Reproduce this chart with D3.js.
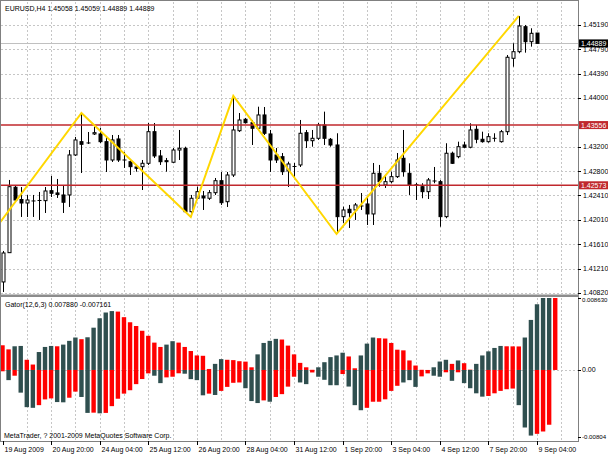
<!DOCTYPE html>
<html><head><meta charset="utf-8">
<script src="https://cdn.jsdelivr.net/npm/d3@7"></script>
<style>body{margin:0;background:#fff}svg{display:block}text{font-family:"Liberation Sans",Arial,sans-serif;}</style>
</head><body><svg id="c" width="608" height="456"></svg>
<script>
// ---- data ----
const symbolTitle = "EURUSD,H4  1.45058 1.45059 1.44889 1.44889";
const gatorTitle = "Gator(12,6,3) 0.007880 -0.007161";
const copyright = "MetaTrader, ? 2001-2009 MetaQuotes Software Corp.";
const open = [
 1.40995,1.41473,1.42541,1.42341,1.42284,1.42317,1.42325,1.42322,1.42485,1.42448,
 1.42415,1.42415,1.43068,1.43285,1.43264,1.43411,1.43411,1.43285,1.42986,1.43329,
 1.42986,1.42958,1.42872,1.42877,1.42932,1.43448,1.43052,1.42975,1.42949,1.43149,
 1.43177,1.42142,1.42361,1.42398,1.42361,1.42452,1.42648,1.42305,1.42741,1.43464,
 1.43651,1.43595,1.43504,1.43721,1.43411,1.43068,1.43040,1.42807,1.42880,1.42905,
 1.43432,1.43301,1.43340,1.43557,1.43324,1.43231,1.42061,1.42181,1.42170,1.42235,
 1.42268,1.42105,1.42769,1.42578,1.42632,1.42714,1.43014,1.42769,1.42583,1.42550,
 1.42469,1.42643,1.42632,1.42061,1.43096,1.43040,1.43231,1.43194,1.43487,1.43324,
 1.43285,1.43340,1.43285,1.43448,1.44646,1.44754,1.45162,1.44917,1.45058];
const high = [
 1.41501,1.42660,1.42562,1.42545,1.42415,1.42415,1.42464,1.42545,1.42725,1.42676,
 1.42578,1.43149,1.43362,1.43753,1.43443,1.43530,1.43509,1.43362,1.43394,1.43394,
 1.43117,1.42986,1.42905,1.42986,1.43590,1.43590,1.43149,1.43019,1.43182,1.43476,
 1.43203,1.42415,1.42550,1.42480,1.42496,1.42692,1.42790,1.42790,1.44031,1.43753,
 1.43672,1.43639,1.43856,1.43851,1.43476,1.43182,1.43100,1.42958,1.42937,1.43639,
 1.43476,1.43476,1.43590,1.43775,1.43345,1.43422,1.42224,1.42252,1.42284,1.42447,
 1.42382,1.42937,1.42905,1.42741,1.42795,1.43100,1.43476,1.42932,1.42611,1.42606,
 1.42692,1.42872,1.42660,1.43259,1.43122,1.43285,1.43285,1.43585,1.43557,1.43448,
 1.43422,1.43422,1.43476,1.44700,1.44891,1.45337,1.45190,1.45136,1.45059];
const low = [
 1.40831,1.41468,1.42301,1.42056,1.42056,1.42056,1.42007,1.42121,1.42382,1.42366,
 1.42121,1.42219,1.43052,1.42774,1.43247,1.43394,1.43264,1.42790,1.42954,1.42954,
 1.42856,1.42741,1.42795,1.42496,1.42905,1.43019,1.42905,1.42795,1.42937,1.42986,
 1.42121,1.42056,1.42333,1.42170,1.42333,1.42415,1.42252,1.42219,1.42709,1.43443,
 1.43582,1.43231,1.43476,1.43394,1.42790,1.42937,1.42741,1.42545,1.42709,1.42872,
 1.43182,1.43203,1.43313,1.43231,1.43203,1.41778,1.41958,1.41876,1.42007,1.42170,
 1.41925,1.41925,1.42550,1.42529,1.42606,1.42692,1.42714,1.42415,1.42333,1.42361,
 1.42349,1.42606,1.41897,1.42035,1.42921,1.43014,1.43177,1.43177,1.43259,1.43269,
 1.43269,1.43285,1.43269,1.43394,1.44509,1.44728,1.44738,1.44836,1.44889];
const close = [
 1.41468,1.42550,1.42333,1.42284,1.42333,1.42309,1.42317,1.42480,1.42443,1.42423,
 1.42296,1.43068,1.43313,1.43242,1.43256,1.43432,1.43285,1.42986,1.43313,1.42986,
 1.42970,1.42877,1.42851,1.42932,1.43448,1.43052,1.42958,1.42958,1.43149,1.43177,
 1.42142,1.42361,1.42469,1.42366,1.42452,1.42648,1.42289,1.42741,1.43476,1.43639,
 1.43595,1.43504,1.43721,1.43422,1.42986,1.42986,1.42795,1.42921,1.42872,1.43422,
 1.43301,1.43340,1.43557,1.43340,1.43231,1.42061,1.42170,1.42126,1.42252,1.42224,
 1.42105,1.42769,1.42632,1.42632,1.42714,1.42986,1.42795,1.42578,1.42573,1.42469,
 1.42660,1.42627,1.42061,1.43096,1.42932,1.43203,1.43194,1.43476,1.43324,1.43285,
 1.43367,1.43324,1.43448,1.44663,1.44754,1.45174,1.44917,1.45054,1.44889];

const zigzagBars = [-3, 13, 31, 38, 55, 85];
const zigzagPrices = [1.41620, 1.43753, 1.42056, 1.44031, 1.41778, 1.45337];

const levelPrices = [1.43556, 1.42573];
const lastPrice = 1.44889;
const priceTicks = [1.45190, 1.44790, 1.44390, 1.44000, 1.43200, 1.42800, 1.42410, 1.42010, 1.41610, 1.41210, 1.40820];

const timeLabelBars = [0, 8, 16, 24, 32, 40, 48, 56, 64, 72, 80, 88];
const timeLabels = ["19 Aug 2009","20 Aug 20:00","24 Aug 04:00","25 Aug 12:00","26 Aug 20:00","28 Aug 04:00",
 "31 Aug 12:00","1 Sep 20:00","3 Sep 04:00","4 Sep 12:00","7 Sep 20:00","9 Sep 04:00"];

const gatorUpper = [
 0.00296,0.00247,0.00284,0.00288,0.00122,0.00065,0.00215,0.00276,0.00288,0.00284,
 0.00304,0.00349,0.00389,0.00369,0.00392,0.00507,0.00620,0.00689,0.00706,0.00700,
 0.00633,0.00572,0.00527,0.00470,0.00410,0.00328,0.00276,0.00304,0.00345,0.00328,
 0.00276,0.00227,0.00174,0.00170,0.00012,0.00073,0.00130,0.00122,0.00118,0.00105,
 0.00100,0.00032,0.00187,0.00324,0.00349,0.00373,0.00365,0.00292,0.00187,0.00085,
 0.00032,0.00002,0.00032,0.00093,0.00154,0.00174,0.00207,0.00162,0.00020,0.00174,
 0.00316,0.00389,0.00381,0.00377,0.00324,0.00243,0.00235,0.00114,0.00053,0.00002,
 0.00000,0.00032,0.00101,0.00122,0.00073,0.00114,0.00081,0.00004,0.00073,0.00174,
 0.00223,0.00264,0.00288,0.00284,0.00283,0.00282,0.00389,0.00600,0.00788,0.00863,
 0.00863,0.00863];
const gatorUpperRising = [
 0,0,1,1,0,0,1,1,1,0, 1,1,1,0,1,1,1,1,1,0, 0,0,0,0,0,0,0,1,1,0,
 0,0,0,0,0,1,1,0,0,0, 0,0,1,1,1,1,0,0,0,0, 0,0,1,1,1,1,1,0,0,1,
 1,1,0,0,0,0,0,0,0,0, 0,1,1,1,0,1,0,0,1,1, 1,1,1,0,0,0,1,1,1,1, 1,0];
const gatorLower = [
 -0.00016,-0.00122,-0.00069,-0.00272,-0.00446,-0.00454,-0.00422,-0.00353,-0.00341,-0.00385,
 -0.00388,-0.00333,-0.00260,-0.00324,-0.00515,-0.00512,-0.00520,-0.00515,-0.00434,-0.00345,
 -0.00284,-0.00243,-0.00170,-0.00109,-0.00041,-0.00069,-0.00158,-0.00089,-0.00081,-0.00040,
 -0.00045,-0.00110,-0.00122,-0.00304,-0.00284,-0.00300,-0.00251,-0.00203,-0.00154,-0.00150,
 -0.00219,-0.00373,-0.00397,-0.00365,-0.00381,-0.00324,-0.00290,-0.00200,-0.00081,-0.00150,
 -0.00170,-0.00030,-0.00081,-0.00118,-0.00183,-0.00183,-0.00049,-0.00199,-0.00422,-0.00483,
 -0.00454,-0.00381,-0.00381,-0.00352,-0.00251,-0.00190,-0.00150,-0.00122,-0.00203,-0.00077,
 -0.00041,-0.00069,-0.00081,-0.00028,-0.00130,-0.00028,-0.00158,-0.00219,-0.00280,-0.00320,
 -0.00312,-0.00280,-0.00251,-0.00231,-0.00223,-0.00422,-0.00690,-0.00787,-0.00766,-0.00738,
 -0.00657];
const gatorLowerRising = [
 0,1,0,1,1,1,0,0,0,1, 1,0,0,1,1,0,1,0,0,0, 0,0,0,0,0,1,1,0,0,0,
 1,1,1,1,0,1,0,0,0,0, 1,1,1,0,1,0,0,0,0,1, 1,0,1,1,1,1,0,1,1,1,
 0,0,0,0,0,0,1,1,1,0, 0,1,1,0,1,0,1,1,1,1, 0,0,0,0,0,1,1,1,0,0, 0];
const gatorTicks = [0.00863, 0, -0.00804];
const gatorTickLabels = ["0.008630", "0.00", "-0.00804"];

// ---- layout ----
const svg = d3.select('#c');
const axisX = 578, mainTop = 2, mainBottom = 294, gTop = 298, gBottom = 441;
const xBar = d3.scaleLinear().domain([0, 88]).range([2.5, 537]);
const yP = d3.scaleLinear().domain([1.40782, 1.45565]).range([295, 2]);
const yG = d3.scaleLinear().domain([-0.00804, 0.00863]).range([437, 298]);
const px = v => Math.round(v) + 0.5;
const grid = "#c6c6c6", dark = "#2f4f4f", red = "#ff0000", lvl = "#c0282d";
const fs = 7;

svg.append('rect').attr('width', 608).attr('height', 456).attr('fill', '#fff');

const defs = svg.append('defs');
defs.append('clipPath').attr('id', 'cm').append('rect').attr('x', 1).attr('y', mainTop).attr('width', axisX - 1).attr('height', mainBottom - mainTop);
defs.append('clipPath').attr('id', 'cg').append('rect').attr('x', 1).attr('y', gTop).attr('width', axisX - 1).attr('height', gBottom - gTop);

// vertical grid
const vBars = d3.range(4, 93, 4);
const gv = svg.append('g').attr('stroke', grid).attr('stroke-dasharray', '2,2');
vBars.forEach(b => {
  gv.append('line').attr('x1', px(xBar(b))).attr('x2', px(xBar(b))).attr('y1', mainTop).attr('y2', mainBottom);
  gv.append('line').attr('x1', px(xBar(b))).attr('x2', px(xBar(b))).attr('y1', gTop).attr('y2', gBottom);
});
// horizontal grid
priceTicks.forEach(p => {
  gv.append('line').attr('x1', 1).attr('x2', axisX).attr('y1', px(yP(p))).attr('y2', px(yP(p)));
});
gv.append('line').attr('x1', 1).attr('x2', axisX).attr('y1', px(yG(0))).attr('y2', px(yG(0)));

// last price line
svg.append('line').attr('x1', 1).attr('x2', axisX).attr('y1', px(yP(lastPrice))).attr('y2', px(yP(lastPrice)))
  .attr('stroke', '#c0c0c0');

// candles
const cg = svg.append('g').attr('clip-path', 'url(#cm)');
open.forEach((o, i) => {
  const x = px(xBar(i));
  const c = close[i];
  cg.append('line').attr('x1', x).attr('x2', x).attr('y1', yP(high[i])).attr('y2', yP(low[i]))
    .attr('stroke', '#000').attr('stroke-width', 1);
  const top = yP(Math.max(o, c)), bot = yP(Math.min(o, c));
  if (bot - top < 1) {
    cg.append('line').attr('x1', x - 2).attr('x2', x + 2).attr('y1', top).attr('y2', top).attr('stroke', '#000');
  } else {
    cg.append('rect').attr('x', x - 1.5).attr('y', top).attr('width', 3).attr('height', bot - top)
      .attr('fill', c >= o ? '#fff' : '#000').attr('stroke', '#000').attr('stroke-width', 1);
  }
});

// level lines
levelPrices.forEach(p => {
  svg.append('line').attr('x1', 1).attr('x2', axisX).attr('y1', yP(p)).attr('y2', yP(p))
    .attr('stroke', lvl).attr('stroke-width', 1.4);
});

// zigzag
const zz = zigzagBars.map((b, i) => [xBar(b), yP(zigzagPrices[i])]);
svg.append('path').attr('clip-path', 'url(#cm)').attr('d', d3.line()(zz))
  .attr('fill', 'none').attr('stroke', '#ffd700').attr('stroke-width', 2);

// gator
const gg = svg.append('g').attr('clip-path', 'url(#cg)');
const bw = 4.4;
gatorUpper.forEach((v, i) => {
  const x = xBar(i);
  gg.append('rect').attr('x', x - bw / 2).attr('y', yG(v)).attr('width', bw).attr('height', yG(0) - yG(v))
    .attr('fill', gatorUpperRising[i] ? dark : red);
});
gatorLower.forEach((v, i) => {
  const x = xBar(i);
  gg.append('rect').attr('x', x - bw / 2).attr('y', yG(0)).attr('width', bw).attr('height', yG(v) - yG(0))
    .attr('fill', gatorLowerRising[i] ? dark : red);
});

// frames
const frame = svg.append('g').attr('stroke', '#808080').attr('fill', 'none');
frame.append('line').attr('x1', axisX + 0.5).attr('x2', axisX + 0.5).attr('y1', 0).attr('y2', gBottom + 1);
frame.append('line').attr('x1', 0).attr('x2', axisX + 1).attr('y1', gBottom + 0.5).attr('y2', gBottom + 0.5);
frame.append('line').attr('x1', 0.5).attr('x2', 0.5).attr('y1', 0).attr('y2', gBottom);
frame.append('line').attr('x1', 0).attr('x2', axisX).attr('y1', 0.5).attr('y2', 0.5);
svg.append('rect').attr('x', 0).attr('y', 294.5).attr('width', axisX + 1).attr('height', 2.5).attr('fill', '#8c8c8c');

// price axis labels
const ax = svg.append('g').attr('font-size', fs);
priceTicks.forEach(p => {
  ax.append('line').attr('x1', axisX).attr('x2', axisX + 3).attr('y1', px(yP(p))).attr('y2', px(yP(p))).attr('stroke', '#000');
  ax.append('text').attr('x', 583).attr('y', yP(p)).attr('dy', '0.35em').text(p.toFixed(5));
});
function boxLabel(p, fill) {
  const y = yP(p);
  ax.append('rect').attr('x', 579).attr('y', y - 4).attr('width', 29).attr('height', 8).attr('fill', fill);
  ax.append('text').attr('x', 581).attr('y', y).attr('dy', '0.35em').attr('fill', '#fff').text(p.toFixed(5));
}
boxLabel(lastPrice, '#000');
levelPrices.forEach(p => boxLabel(p, lvl));

gatorTicks.forEach((v, i) => {
  ax.append('line').attr('x1', axisX).attr('x2', axisX + 3).attr('y1', px(yG(v))).attr('y2', px(yG(v))).attr('stroke', '#000');
  ax.append('text').attr('x', 582).attr('y', yG(v) + (i === 0 ? 1.5 : 0)).attr('dy', '0.35em')
    .attr('font-size', gatorTickLabels[i].length > 5 ? 6.1 : fs).text(gatorTickLabels[i]);
});

// time axis
timeLabelBars.forEach((b, i) => {
  const x = px(xBar(b));
  ax.append('line').attr('x1', x).attr('x2', x).attr('y1', gBottom).attr('y2', gBottom + 4).attr('stroke', '#000');
  ax.append('text').attr('x', x + 1).attr('y', 452).text(timeLabels[i]);
});

// titles
ax.append('text').attr('x', 5).attr('y', 11).text(symbolTitle);
ax.append('text').attr('x', 5).attr('y', 307).text(gatorTitle);
ax.append('text').attr('x', 4).attr('y', 438).text(copyright);
</script></body></html>
